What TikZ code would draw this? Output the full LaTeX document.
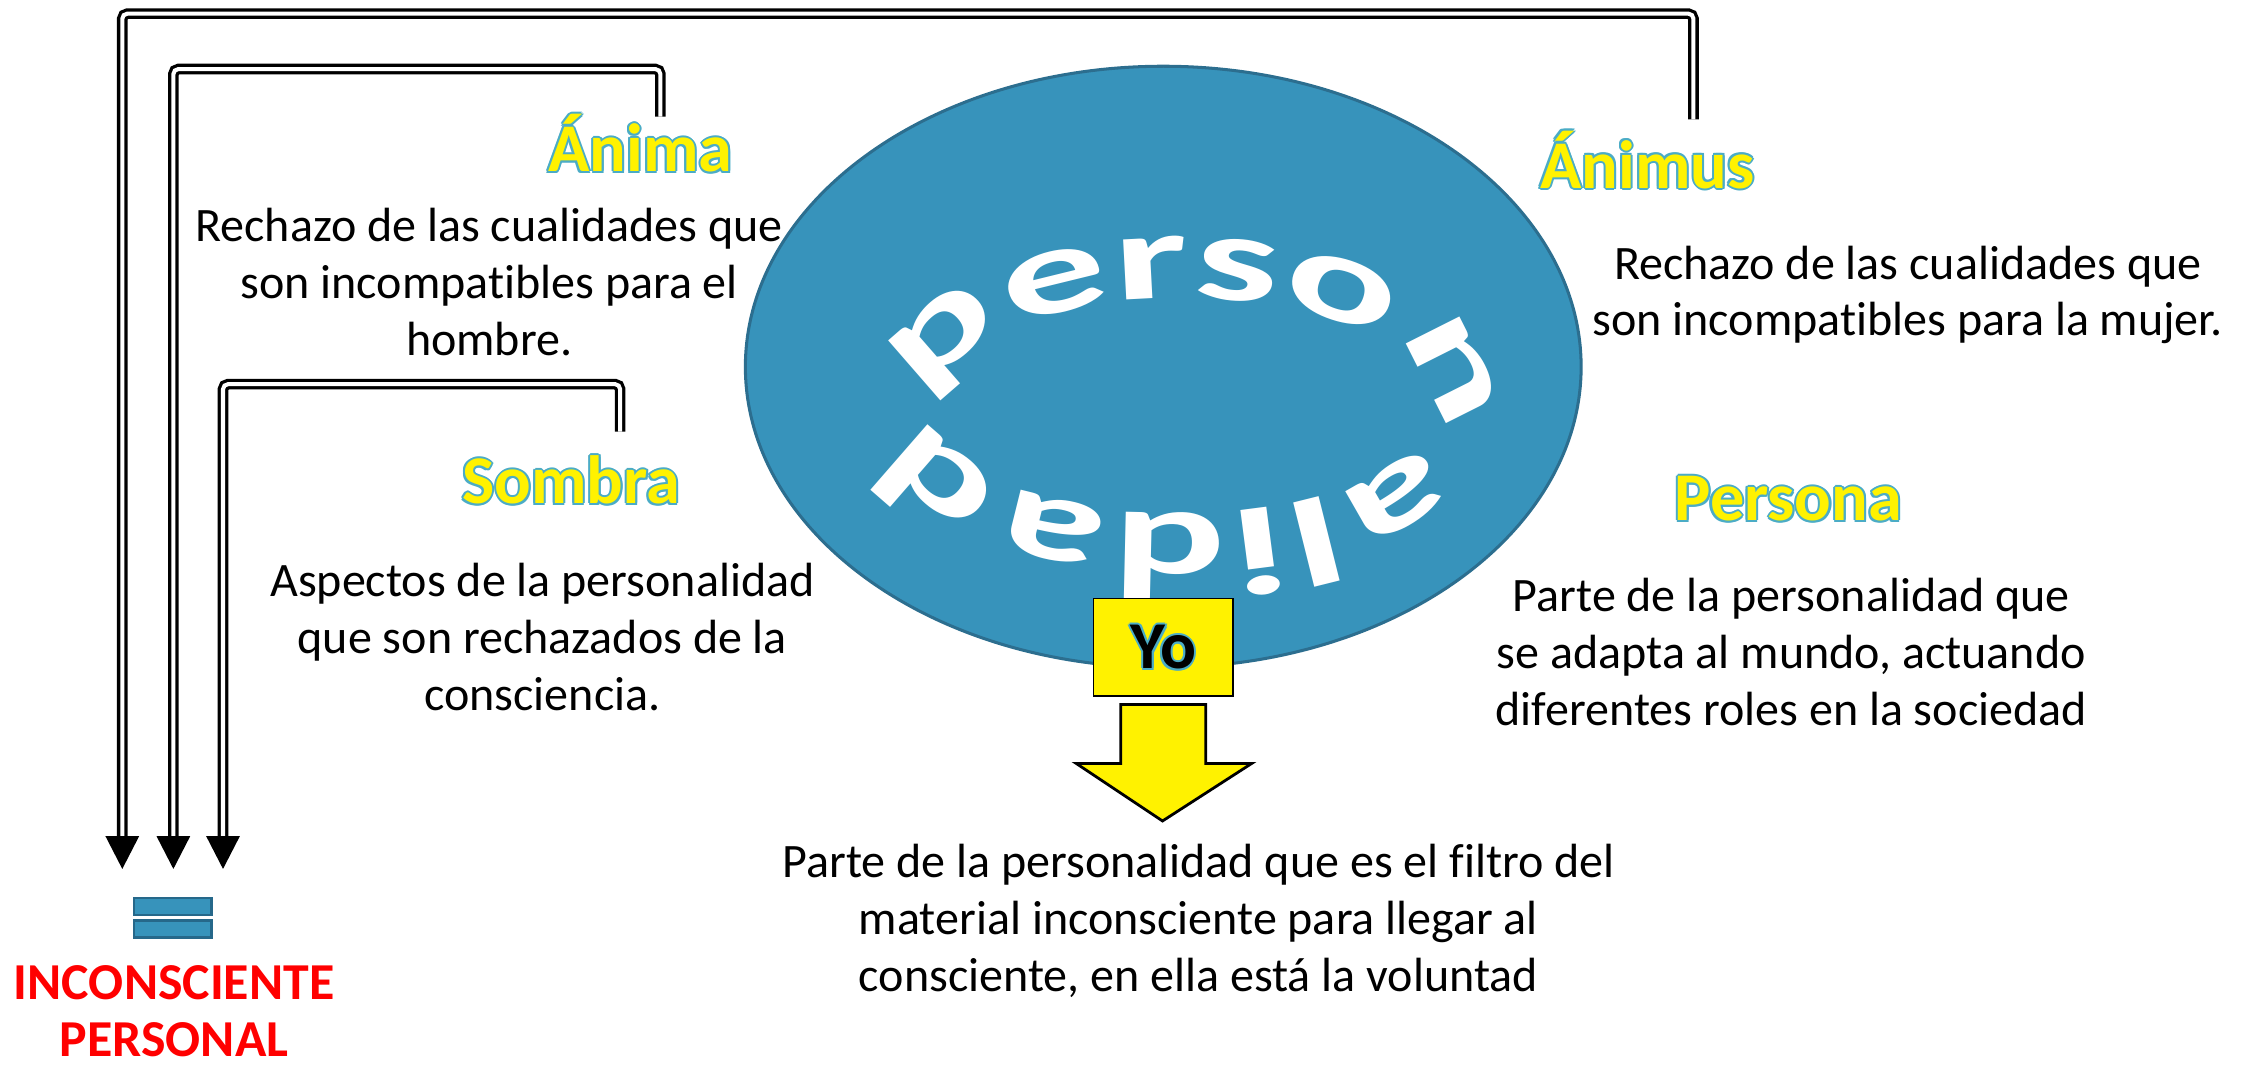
\documentclass[tikz,border=0pt]{standalone}
\usepackage{fontspec}
\setmainfont{Carlito}[Ligatures=NoCommon]
\newfontfamily\wordart[FakeStretch=1.7]{Carlito}
\usetikzlibrary{shapes.geometric,arrows.meta,decorations.text,calc,positioning}
\definecolor{discblue}{RGB}{55,147,187}
\definecolor{discedge}{RGB}{44,110,143}
\definecolor{glowblue}{RGB}{75,172,198}
\definecolor{baredge}{RGB}{38,104,138}
\newcommand{\edgecopy}[3]{\makebox[0pt][l]{\hspace*{#1}\raisebox{#2}{#3}}}
\newcommand{\glowtext}[3]{{\color{#2}%
  \edgecopy{-.8pt}{0pt}{#3}\edgecopy{.8pt}{0pt}{#3}\edgecopy{0pt}{.8pt}{#3}\edgecopy{0pt}{-.8pt}{#3}%
  \edgecopy{-.6pt}{-.6pt}{#3}\edgecopy{.6pt}{.6pt}{#3}\edgecopy{-.6pt}{.6pt}{#3}\edgecopy{.6pt}{-.6pt}{#3}}%
  {\color{#1}#3}}
\tikzstyle{link} = [draw=black, line width=1.3pt, double=white, double distance=1.6pt, rounded corners=2pt, -{Triangle[width=13pt,length=13pt]}]
\tikzstyle{disc} = [draw=discedge, line width=1.2pt, fill=discblue, ellipse, minimum width=11.62cm, minimum height=8.36cm, inner sep=0pt]
\tikzstyle{title} = [font=\fontsize{27}{30}\selectfont\bfseries, inner sep=0pt, anchor=base]
\tikzstyle{desc} = [font=\fontsize{19}{22.5}\selectfont, align=center, inner sep=0pt]
\tikzstyle{yobox} = [draw=black, line width=0.7pt, fill=yellow, minimum width=1.94cm, minimum height=1.36cm, font=\fontsize{26.5}{28}\selectfont\bfseries]
\tikzstyle{pointer} = [draw=black, line width=1.1pt, fill=yellow, line join=miter]
\tikzstyle{bar} = [draw=baredge, line width=1pt, fill=discblue, minimum width=1.08cm, minimum height=0.24cm, inner sep=0pt]
\tikzstyle{warn} = [text=red, font=\fontsize{20.5}{22.4}\selectfont\bfseries, align=center, inner sep=0pt]

\begin{document}
\begin{tikzpicture}[x=0.02cm, y=-0.02cm]
    \useasboundingbox (0,0) rectangle (1568,742);
    \node[disc] (psyche) at (808.5,255) {};
    \coordinate (ringstart) at (650,282);
    \path[decorate, decoration={text along path, text align={fit to path},
        text={|\wordart\bfseries\fontsize{49}{49}\selectfont\color{white}|personalidad}}]
        (ringstart) arc[start angle=180, end angle=-180, x radius=3.45cm, y radius=1.5cm];
    \node[yobox] (yo) at (808.5,450) {\glowtext{black}{glowblue}{Yo}};
    \draw[pointer] ($(yo.south)+(-29.5,5)$) -- ++(59,0) -- ++(0,41) -- ++(32,0) -- ++(-62,40) -- ++(-60,-40) -- ++(31,0) -- cycle;
    \node[desc] (yotext) at (833,640) {Parte de la personalidad que es el filtro del\\material inconsciente para llegar al\\consciente, en ella está la voluntad};
    \node[title] (anima) at (445,119.5) {\glowtext{yellow}{glowblue}{Ánima}};
    \node[desc] (animatext) at (340,196) {Rechazo de las cualidades que\\son incompatibles para el\\hombre.};
    \node[title] (animus) at (1145,131) {\glowtext{yellow}{glowblue}{Ánimus}};
    \node[desc] (animustext) at (1326,205) {Rechazo de las cualidades que\\son incompatibles para la mujer.};
    \node[title] (sombra) at (397,350) {\glowtext{yellow}{glowblue}{Sombra}};
    \node[desc] (sombratext) at (377,443) {Aspectos de la personalidad\\que son rechazados de la\\consciencia.};
    \node[title] (persona) at (1243,362) {\glowtext{yellow}{glowblue}{Persona}};
    \node[desc] (personatext) at (1245,453) {Parte de la personalidad que\\se adapta al mundo, actuando\\diferentes roles en la sociedad};
    \node[bar] (eqtop) at (120,630) {};
    \node[bar, below=0.04cm of eqtop] (eqbot) {};
    \node[warn] (inconsciente) at (121,703) {INCONSCIENTE\\PERSONAL};
    \coordinate (animusport) at (1177,83);
    \coordinate (animaport) at (459,81);
    \coordinate (sombraport) at (431,300);
    \coordinate (tipouter) at (85,604);
    \coordinate (tipmid) at (120.5,604);
    \coordinate (tipinner) at (155,604);
    \path[link] (animusport) -- ++(0,-73.5) -| (tipouter);
    \path[link] (animaport) -- ++(0,-33) -| (tipmid);
    \path[link] (sombraport) -- ++(0,-33) -| (tipinner);
\end{tikzpicture}
\end{document}
